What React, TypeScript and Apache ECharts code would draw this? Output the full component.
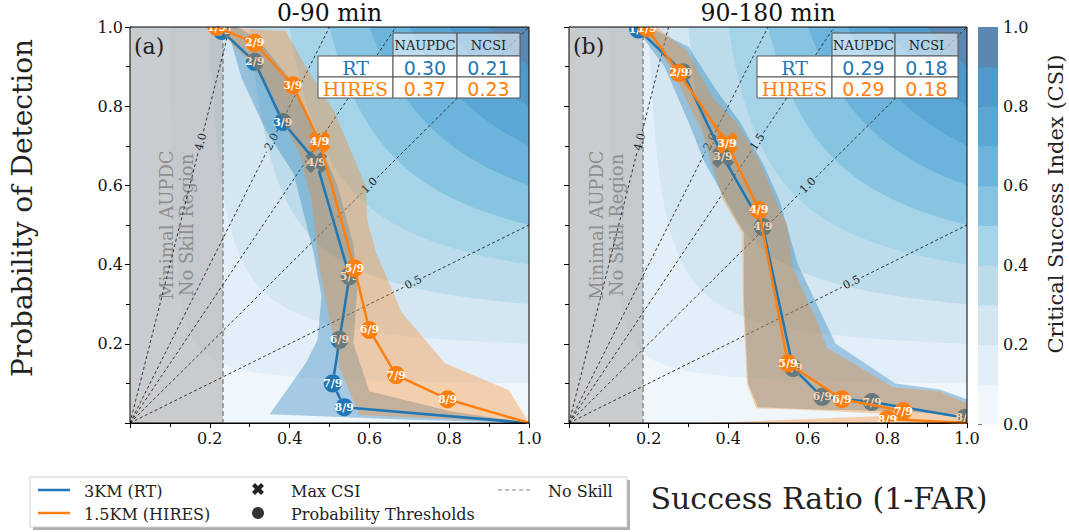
import React, { useEffect, useRef } from 'react';
import * as echarts from 'echarts';

const SERIF = '"DejaVu Serif", serif';
const SANS = '"DejaVu Sans", sans-serif';
const BLUE = '#1f77b4';
const ORANGE = '#ff7f0e';

// ---------- data ----------
const panelTitles = ['0-90 min', '90-180 min'];
const panelTags = ['(a)', '(b)'];
const csiLevels = [0, 0.1, 0.2, 0.3, 0.4, 0.5, 0.6, 0.7, 0.8, 0.9];
const csiColors = ['#eff6fc', '#e2eff9', '#d4e6f2', '#bcdcec', '#a5d3e8', '#86c4e2', '#6db4dc', '#5aa6d4', '#4f9acb', '#5b88b3'];
const biasValues = [0.5, 1.0, 1.5, 2.0, 4.0];
const thresholdLabels = ['1/9', '2/9', '3/9', '4/9', '5/9', '6/9', '7/9', '8/9'];
const noSkill = [0.233, 0.186];
const maxCsiIndex = [3, 2];
const tableCols = ['NAUPDC', 'NCSI'];
const tableRowNames = ['RT', 'HIRES'];
const scoresRT = [['0.30', '0.21'], ['0.29', '0.18']];
const scoresHIRES = [['0.37', '0.23'], ['0.29', '0.18']];

// Panel (a) 0-90 min
const rtSR_a = [0.23, 0.3125, 0.383, 0.467, 0.55, 0.525, 0.508, 0.537, 1.0];
const rtPOD_a = [0.99, 0.912, 0.76, 0.659, 0.371, 0.21, 0.10, 0.04, 0.0];
const hiresSR_a = [0.217, 0.3125, 0.408, 0.475, 0.5625, 0.6, 0.667, 0.796, 1.0];
const hiresPOD_a = [1.0, 0.96, 0.853, 0.71, 0.391, 0.235, 0.121, 0.06, 0.0];
const rtBand_a = [[0.225, 1.0], [0.27, 1.0], [0.32, 0.97], [0.40, 0.87], [0.46, 0.74], [0.52, 0.6], [0.56, 0.45], [0.57, 0.35], [0.56, 0.2], [0.6, 0.08], [0.8, 0.03], [1.0, 0.0], [0.7, 0.008], [0.35, 0.022], [0.44, 0.15], [0.47, 0.21], [0.48, 0.32], [0.46, 0.43], [0.43, 0.55], [0.41, 0.63], [0.34, 0.74], [0.28, 0.87], [0.25, 0.975]];
const hiresBand_a = [[0.215, 1.0], [0.39, 0.99], [0.44, 0.9], [0.51, 0.79], [0.54, 0.72], [0.59, 0.6], [0.595, 0.51], [0.617, 0.43], [0.68, 0.28], [0.79, 0.15], [0.95, 0.083], [1.0, 0.0], [0.575, 0.02], [0.525, 0.14], [0.505, 0.24], [0.475, 0.39], [0.455, 0.56], [0.425, 0.68], [0.37, 0.79], [0.31, 0.9], [0.225, 0.99]];

// Panel (b) 90-180 min
const rtSR_b = [0.174, 0.286, 0.387, 0.487, 0.563, 0.636, 0.761, 0.995];
const rtPOD_b = [0.994, 0.886, 0.672, 0.495, 0.139, 0.066, 0.053, 0.013];
const hiresSR_b = [0.196, 0.276, 0.397, 0.477, 0.55, 0.686, 0.84, 0.80, 1.0];
const hiresPOD_b = [0.997, 0.884, 0.707, 0.538, 0.151, 0.06, 0.03, 0.01, 0.0];
const rtBand_b = [[0.165, 1.0], [0.2, 1.0], [0.3, 0.95], [0.37, 0.84], [0.43, 0.76], [0.49, 0.65], [0.53, 0.56], [0.575, 0.4], [0.67, 0.2], [0.82, 0.1], [0.93, 0.085], [1.0, 0.06], [1.0, 0.02], [0.8, 0.03], [0.6, 0.035], [0.475, 0.04], [0.45, 0.1], [0.44, 0.3], [0.44, 0.48], [0.39, 0.57], [0.34, 0.66], [0.3, 0.76], [0.24, 0.9]];
const hiresBand_b = [[0.18, 1.0], [0.22, 1.0], [0.296, 0.94], [0.362, 0.82], [0.42, 0.76], [0.48, 0.66], [0.52, 0.56], [0.548, 0.5], [0.563, 0.39], [0.63, 0.24], [0.648, 0.19], [0.814, 0.09], [0.93, 0.08], [1.0, 0.05], [1.0, 0.0], [0.35, 0.0], [0.6, 0.01], [0.85, 0.02], [0.6, 0.033], [0.47, 0.037], [0.447, 0.1], [0.437, 0.31], [0.435, 0.48], [0.387, 0.563], [0.337, 0.73], [0.254, 0.9]];

const panels = [
  { rtSR: rtSR_a, rtPOD: rtPOD_a, hiSR: hiresSR_a, hiPOD: hiresPOD_a, rtBand: rtBand_a, hiBand: hiresBand_a },
  { rtSR: rtSR_b, rtPOD: rtPOD_b, hiSR: hiresSR_b, hiPOD: hiresPOD_b, rtBand: rtBand_b, hiBand: hiresBand_b },
];

// ---------- layout ----------
const GRIDS = [
  { left: 130, top: 27, width: 399, height: 396 },
  { left: 569, top: 27, width: 398, height: 396 },
  { left: 978, top: 27, width: 20, height: 397 },
];
const TABLE_X = [[318, 393, 457, 520], [757, 832, 895, 958]];
const TABLE_Y = [33, 56, 77, 98];
const MARK_R = 9;
const X_PATH = 'M0,3L3,0L6,3L9,0L12,3L9,6L12,9L9,12L6,9L3,12L0,9L3,6Z';
const X_VERTS = [[0, 3], [3, 0], [6, 3], [9, 0], [12, 3], [9, 6], [12, 9], [9, 12], [6, 9], [3, 12], [0, 9], [3, 6]];

function csiCurve(c: number) {
  const pts: number[][] = [];
  const n = 240;
  for (let k = 0; k <= n; k++) {
    const t = k / n;
    const sr = c + (1 - c) * Math.pow(t, 1.6);
    const pod = 1 / (1 / c + 1 - 1 / sr);
    pts.push([sr, Math.min(1, pod)]);
  }
  return pts;
}

function txt(text: string, x: number, y: number, font: string, fill: string, align = 'center', vAlign = 'middle', extra: any = {}) {
  return {
    type: 'text', x, y, z: 110, silent: true, ...extra,
    style: { text, font, fill, align, verticalAlign: vAlign, textAlign: align, textVerticalAlign: vAlign },
  };
}

function valAxis(gi: number, showLabel: boolean) {
  return {
    gridIndex: gi, type: 'value', min: 0, max: 1, interval: 0.2,
    axisLine: { show: true, onZero: false, lineStyle: { color: '#000', width: 1 } },
    axisTick: { show: true, length: 5, lineStyle: { color: '#000' } },
    minorTick: { show: true, splitNumber: 2, length: 4, lineStyle: { color: '#000' } },
    splitLine: { show: false }, minorSplitLine: { show: false },
    axisLabel: {
      show: showLabel, fontFamily: SERIF, fontSize: 16, color: '#111', margin: 7,
      formatter: (v: number) => (v === 0 ? '' : v.toFixed(1)),
    },
  };
}

function panelSeries(p: number) {
  const d = panels[p];
  const ax = { xAxisIndex: p, yAxisIndex: p };
  const nMark = thresholdLabels.length;
  const bandSeries = (pts: number[][], fill: string, z: number) => ({
    type: 'custom', ...ax, z, clip: true, silent: true, data: [[0.5, 0.5]],
    renderItem: (_params: any, api: any) => ({
      type: 'polygon', shape: { points: pts.map((q) => api.coord(q)) }, style: { fill },
    }),
  });
  const markerSeries = (sr: number[], pod: number[], color: string, z: number) => ({
    type: 'custom', ...ax, z, clip: true, silent: true,
    data: thresholdLabels.map((_l, i) => [sr[i], pod[i]]),
    renderItem: (params: any, api: any) => {
      const i = params.dataIndex;
      const c = api.coord([api.value(0), api.value(1)]);
      const isMax = i === maxCsiIndex[p];
      const sym = isMax
        ? { type: 'path', shape: { pathData: X_PATH, x: c[0] - 11, y: c[1] - 11, width: 22, height: 22 }, style: { fill: color } }
        : { type: 'circle', shape: { cx: c[0], cy: c[1], r: MARK_R }, style: { fill: color } };
      return {
        type: 'group', children: [sym, {
          type: 'text', x: c[0], y: c[1],
          style: { text: thresholdLabels[i], fill: '#fff', font: `bold 11px ${SERIF}`, align: 'center', verticalAlign: 'middle', textAlign: 'center', textVerticalAlign: 'middle' },
        }],
      };
    },
  });
  // line drawn between marker edges so that it passes behind the markers
  const gappedLine = (sr: number[], pod: number[], color: string, z: number) => ({
    type: 'custom', ...ax, z, clip: true, silent: true, data: [[sr[0], pod[0]]],
    renderItem: (_params: any, api: any) => {
      const pts = sr.map((x, i) => api.coord([x, pod[i]]));
      const children: any[] = [];
      for (let i = 0; i < pts.length - 1; i++) {
        const a = pts[i];
        const b = pts[i + 1];
        const dx = b[0] - a[0];
        const dy = b[1] - a[1];
        const len = Math.hypot(dx, dy);
        const ga = i < nMark ? MARK_R : 0;
        const gb = i + 1 < nMark ? MARK_R : 0;
        if (len <= ga + gb) continue;
        const ux = dx / len;
        const uy = dy / len;
        children.push({
          type: 'line',
          shape: { x1: a[0] + ux * ga, y1: a[1] + uy * ga, x2: b[0] - ux * gb, y2: b[1] - uy * gb },
          style: { stroke: color, lineWidth: 2.5, lineCap: 'butt' },
        });
      }
      return { type: 'group', children };
    },
  });
  const lineSeries = (sr: number[], pod: number[], color: string, z: number) => ({
    type: 'line', ...ax, z, clip: true, silent: true, symbol: 'none', showSymbol: false,
    data: sr.map((x, i) => [x, pod[i]]),
    lineStyle: { color, width: 2.5 }, itemStyle: { color },
  });
  return [
    {
      type: 'custom', ...ax, z: 1, clip: true, silent: true,
      data: csiLevels.map((c) => [c, c]),
      renderItem: (params: any, api: any) => {
        const i = params.dataIndex;
        const c = csiLevels[i];
        const pts = c === 0 ? [[0, 0], [1, 0], [1, 1], [0, 1]] : [...csiCurve(c), [1, 1]];
        return { type: 'polygon', shape: { points: pts.map((q) => api.coord(q)) }, style: { fill: csiColors[i] } };
      },
    },
    {
      type: 'custom', ...ax, z: 2, clip: true, silent: true, data: [[noSkill[p], 0.5]],
      renderItem: (_params: any, api: any) => {
        const ns = api.value(0);
        const tl = api.coord([0, 1]);
        const br = api.coord([ns, 0]);
        const mid = api.coord([ns / 2, 0.5]);
        return {
          type: 'group', children: [
            { type: 'rect', shape: { x: tl[0], y: tl[1], width: br[0] - tl[0], height: br[1] - tl[1] }, style: { fill: 'rgba(168,168,168,0.54)' } },
            { type: 'line', shape: { x1: br[0], y1: tl[1], x2: br[0], y2: br[1] }, style: { stroke: '#8a8a8a', lineWidth: 1.5, lineDash: [5, 3] } },
            {
              type: 'text', x: mid[0], y: mid[1], rotation: Math.PI / 2,
              style: { text: 'Minimal AUPDC\nNo Skill Region', font: `18px ${SERIF}`, fill: '#8e8e8e', align: 'center', verticalAlign: 'middle', textAlign: 'center', textVerticalAlign: 'middle', lineHeight: 20 },
            },
          ],
        };
      },
    },
    {
      type: 'custom', ...ax, z: 3, clip: true, silent: true,
      data: biasValues.map((b) => [Math.min(1, 1 / b), Math.min(1, b)]),
      renderItem: (params: any, api: any) => {
        const b = biasValues[params.dataIndex];
        const o = api.coord([0, 0]);
        const e = api.coord([api.value(0), api.value(1)]);
        const dx = e[0] - o[0];
        const dy = e[1] - o[1];
        const len = Math.hypot(dx, dy);
        const ux = dx / len;
        const uy = dy / len;
        const f = b === 1 ? 0.6 : 0.71;
        const lx = o[0] + dx * f;
        const ly = o[1] + dy * f;
        const g = 11;
        const ls = { stroke: '#222', lineWidth: 0.9, lineDash: [3, 2.5], fill: null };
        return {
          type: 'group', children: [
            { type: 'line', shape: { x1: o[0], y1: o[1], x2: lx - ux * g, y2: ly - uy * g }, style: ls },
            { type: 'line', shape: { x1: lx + ux * g, y1: ly + uy * g, x2: e[0], y2: e[1] }, style: ls },
            {
              type: 'text', x: lx, y: ly, rotation: Math.atan2(-dy, dx),
              style: { text: b.toFixed(1), font: `11px ${SERIF}`, fill: '#222', align: 'center', verticalAlign: 'middle', textAlign: 'center', textVerticalAlign: 'middle' },
            },
          ],
        };
      },
    },
    bandSeries(d.rtBand, 'rgba(31,119,180,0.35)', 4),
    markerSeries(d.rtSR, d.rtPOD, BLUE, 5),
    bandSeries(d.hiBand, 'rgba(255,127,14,0.33)', 6),
    gappedLine(d.rtSR, d.rtPOD, BLUE, 7),
    lineSeries(d.hiSR, d.hiPOD, ORANGE, 8),
    markerSeries(d.hiSR, d.hiPOD, ORANGE, 9),
  ];
}

function tableGraphics(p: number) {
  const xs = TABLE_X[p];
  const ys = TABLE_Y;
  const els: any[] = [];
  for (let c = 0; c < 2; c++) {
    els.push({ type: 'rect', z: 105, silent: true, shape: { x: xs[c + 1], y: ys[0], width: xs[c + 2] - xs[c + 1], height: ys[1] - ys[0] }, style: { fill: 'rgba(255,255,255,0.55)', stroke: '#555', lineWidth: 1 } });
    els.push(txt(tableCols[c], (xs[c + 1] + xs[c + 2]) / 2, (ys[0] + ys[1]) / 2 + 1, `13px ${SERIF}`, '#222'));
  }
  const rowVals = [scoresRT[p], scoresHIRES[p]];
  const rowColors = [BLUE, ORANGE];
  for (let r = 0; r < 2; r++) {
    for (let c = 0; c < 3; c++) {
      els.push({ type: 'rect', z: 105, silent: true, shape: { x: xs[c], y: ys[r + 1], width: xs[c + 1] - xs[c], height: ys[r + 2] - ys[r + 1] }, style: { fill: '#fff', stroke: '#555', lineWidth: 1 } });
      const label = c === 0 ? tableRowNames[r] : rowVals[r][c - 1];
      els.push(txt(label, (xs[c] + xs[c + 1]) / 2, (ys[r + 1] + ys[r + 2]) / 2 + 1, c === 0 ? `19px ${SERIF}` : `19px ${SANS}`, rowColors[r]));
    }
  }
  return els;
}

function xmarkPoints(cx: number, cy: number, s: number) {
  return X_VERTS.map((v) => [cx + (v[0] - 6) * s / 12, cy + (v[1] - 6) * s / 12]);
}

function buildOption() {
  const graphics: any[] = [];
  for (let p = 0; p < 2; p++) {
    const g = GRIDS[p];
    graphics.push({ type: 'rect', z: 100, silent: true, shape: { x: g.left, y: g.top, width: g.width, height: g.height }, style: { fill: 'none', stroke: '#000', lineWidth: 1 } });
    graphics.push(txt(panelTitles[p], g.left + g.width / 2, 13, `23.5px ${SERIF}`, '#111'));
    graphics.push(txt(panelTags[p], g.left + 4, 46, `22px ${SERIF}`, '#222', 'left'));
    graphics.push(...tableGraphics(p));
  }
  graphics.push(txt('Probability of Detection', 22, 208, `28px ${SERIF}`, '#222', 'center', 'middle', { rotation: Math.PI / 2 }));
  graphics.push(txt('Success Ratio (1-FAR)', 819, 498, `30px ${SERIF}`, '#222'));
  graphics.push(txt('Critical Success Index (CSI)', 1056, 204, `21px ${SERIF}`, '#222', 'center', 'middle', { rotation: Math.PI / 2 }));
  // legend
  graphics.push({ type: 'rect', z: 100, silent: true, shape: { x: 33, y: 480, width: 597, height: 50 }, style: { fill: 'rgba(120,120,120,0.6)' } });
  graphics.push({ type: 'rect', z: 101, silent: true, shape: { x: 30, y: 477, width: 597, height: 50 }, style: { fill: '#fff', stroke: '#cfcfcf', lineWidth: 1 } });
  graphics.push({ type: 'line', z: 102, silent: true, shape: { x1: 38, y1: 490, x2: 70, y2: 490 }, style: { stroke: BLUE, lineWidth: 2.5 } });
  graphics.push({ type: 'line', z: 102, silent: true, shape: { x1: 38, y1: 513, x2: 70, y2: 513 }, style: { stroke: ORANGE, lineWidth: 2.5 } });
  graphics.push({ type: 'polygon', z: 102, silent: true, shape: { points: xmarkPoints(258, 489, 12) }, style: { fill: '#222' } });
  graphics.push({ type: 'circle', z: 102, silent: true, shape: { cx: 258, cy: 513, r: 6 }, style: { fill: '#333' } });
  graphics.push({ type: 'line', z: 102, silent: true, shape: { x1: 498, y1: 490, x2: 530, y2: 490 }, style: { stroke: '#aaa', lineWidth: 1.5, lineDash: [4, 3] } });
  graphics.push(txt('3KM (RT)', 84, 491, `16px ${SERIF}`, '#222', 'left'));
  graphics.push(txt('1.5KM (HIRES)', 84, 514, `16px ${SERIF}`, '#222', 'left'));
  graphics.push(txt('Max CSI', 291, 491, `16px ${SERIF}`, '#222', 'left'));
  graphics.push(txt('Probability Thresholds', 291, 514, `16px ${SERIF}`, '#222', 'left'));
  graphics.push(txt('No Skill', 548, 491, `16px ${SERIF}`, '#222', 'left'));

  const cbAxisY = {
    gridIndex: 2, type: 'value', min: 0, max: 1, interval: 0.2, position: 'right',
    axisLine: { show: false }, splitLine: { show: false },
    axisTick: { show: true, length: 4, lineStyle: { color: '#000' } },
    axisLabel: { show: true, fontFamily: SERIF, fontSize: 16, color: '#111', margin: 5, formatter: (v: number) => v.toFixed(1) },
  };

  return {
    animation: false,
    backgroundColor: '#fff',
    grid: GRIDS.map((g) => ({ ...g, containLabel: false })),
    xAxis: [valAxis(0, true), valAxis(1, true), { gridIndex: 2, type: 'value', min: 0, max: 1, show: false }],
    yAxis: [valAxis(0, true), valAxis(1, false), cbAxisY],
    series: [
      ...panelSeries(0),
      ...panelSeries(1),
      {
        type: 'custom', xAxisIndex: 2, yAxisIndex: 2, silent: true, clip: false,
        data: csiLevels.map((c) => [0.5, c]),
        renderItem: (params: any, api: any) => {
          const c = api.value(1);
          const a = api.coord([0, Math.min(1, c + 0.1)]);
          const b = api.coord([1, c]);
          return { type: 'rect', shape: { x: a[0], y: a[1], width: b[0] - a[0], height: b[1] - a[1] + 0.5 }, style: { fill: csiColors[params.dataIndex] } };
        },
      },
    ],
    graphic: { elements: graphics },
  };
}

export default function App() {
  const ref = useRef<HTMLDivElement>(null);
  useEffect(() => {
    const chart = echarts.init(ref.current as HTMLDivElement, null, { renderer: 'svg' });
    chart.setOption(buildOption() as any);
    return () => chart.dispose();
  }, []);
  return <div ref={ref} style={{ position: 'fixed', left: 0, top: 0, width: 1069, height: 532, background: '#fff' }} />;
}
